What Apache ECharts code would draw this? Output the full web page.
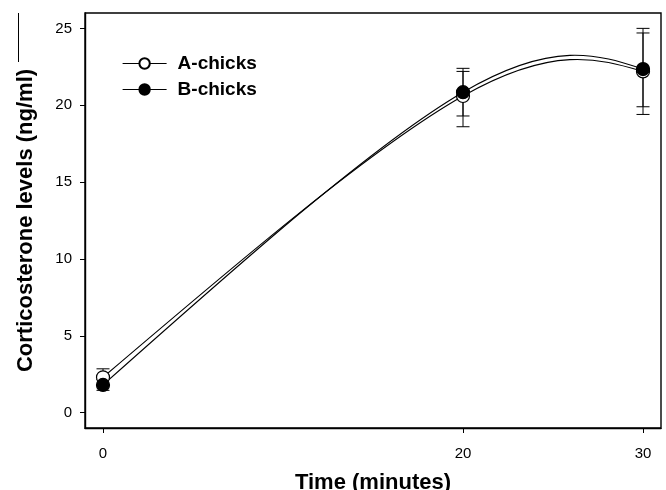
<!DOCTYPE html>
<html><head><meta charset="utf-8">
<script src="https://cdn.jsdelivr.net/npm/echarts@6/dist/echarts.min.js"></script>
<style>html,body{margin:0;padding:0;background:#fff}#c{width:666px;height:490px}</style>
</head><body><div id="c"></div>
<script>
var times = [0, 20, 30];
var seriesNames = ['A-chicks', 'B-chicks'];
var aMean = [2.3, 20.6, 22.2];
var aLow = [1.75, 18.6, 19.4];
var aHigh = [2.85, 22.4, 25.0];
var bMean = [1.8, 20.85, 22.35];
var bLow = [1.45, 19.3, 19.9];
var bHigh = [2.15, 22.2, 24.7];
var xTicks = [0, 20, 30];
var yTicks = [0, 5, 10, 15, 20, 25];

var FONT = '"Liberation Sans", Arial, sans-serif';
function pts(m){ return times.map(function(t,i){ return [t, m[i]]; }); }
function errData(lo, hi){ return times.map(function(t,i){ return [t, lo[i], hi[i]]; }); }
function errSeries(lo, hi){
  return {
    type: 'custom', silent: true, z: 1,
    data: errData(lo, hi),
    encode: {x: 0, y: [1, 2]},
    renderItem: function(params, api){
      var x = api.value(0);
      var p1 = api.coord([x, api.value(1)]);
      var p2 = api.coord([x, api.value(2)]);
      var w = 6.5;
      var st = {stroke: '#000', lineWidth: 1};
      return {type: 'group', children: [
        {type: 'line', shape: {x1: p1[0], y1: p1[1], x2: p2[0], y2: p2[1]}, style: st},
        {type: 'line', shape: {x1: p1[0]-w, y1: p1[1], x2: p1[0]+w, y2: p1[1]}, style: st},
        {type: 'line', shape: {x1: p2[0]-w, y1: p2[1], x2: p2[0]+w, y2: p2[1]}, style: st}
      ]};
    }
  };
}
// parametric natural cubic spline (uniform knots) through the data, drawn as bezier segments
function splineSeries(means){
  return {
    type: 'custom', silent: true, z: 2,
    data: pts(means),
    encode: {x: 0, y: 1},
    renderItem: function(params, api){
      if (params.dataIndex !== 0) return null;
      var P = times.map(function(t, i){ return api.coord([t, means[i]]); });
      var n = P.length, D = [];
      for (var k = 0; k < 2; k++) {
        var a = [], b = [], c = [], r = [];
        for (var i = 0; i < n; i++) {
          if (i === 0) { a[i]=0; b[i]=2; c[i]=1; r[i]=3*(P[1][k]-P[0][k]); }
          else if (i === n-1) { a[i]=1; b[i]=2; c[i]=0; r[i]=3*(P[n-1][k]-P[n-2][k]); }
          else { a[i]=1; b[i]=4; c[i]=1; r[i]=3*(P[i+1][k]-P[i-1][k]); }
        }
        for (i = 1; i < n; i++) { var m = a[i]/b[i-1]; b[i] -= m*c[i-1]; r[i] -= m*r[i-1]; }
        var d = []; d[n-1] = r[n-1]/b[n-1];
        for (i = n-2; i >= 0; i--) d[i] = (r[i]-c[i]*d[i+1])/b[i];
        for (i = 0; i < n; i++) { D[i] = D[i] || []; D[i][k] = d[i]; }
      }
      var children = [];
      for (i = 0; i < n-1; i++) {
        children.push({type: 'bezierCurve', shape: {
          x1: P[i][0], y1: P[i][1], x2: P[i+1][0], y2: P[i+1][1],
          cpx1: P[i][0]+D[i][0]/3, cpy1: P[i][1]+D[i][1]/3,
          cpx2: P[i+1][0]-D[i+1][0]/3, cpy2: P[i+1][1]-D[i+1][1]/3
        }, style: {stroke: '#000', lineWidth: 1.1, fill: null}});
      }
      return {type: 'group', children: children};
    }
  };
}
var chart = echarts.init(document.getElementById('c'));
chart.setOption({
  animation: false,
  backgroundColor: '#fff',
  grid: {left: 85, right: 5, top: 13, bottom: 62, containLabel: false, outerBoundsMode: 'none',
         show: true, borderColor: '#000', borderWidth: 1.4, backgroundColor: 'transparent'},
  legend: {
    orient: 'vertical', left: 117, top: 49, itemWidth: 44, itemHeight: 13, itemGap: 7,
    data: seriesNames,
    lineStyle: {color: '#000', width: 1.2, opacity: 1},
    textStyle: {fontFamily: FONT, fontWeight: 'bold', fontSize: 19, color: '#000', padding: [0,0,0,6]}
  },
  graphic: [{type: 'line', shape: {x1: 18.5, y1: 13, x2: 18.5, y2: 62}, style: {stroke: '#000', lineWidth: 1}}],
  xAxis: {
    type: 'value', min: -1, max: 31,
    name: 'Time (minutes)', nameLocation: 'middle', nameGap: 44,
    nameTextStyle: {fontFamily: FONT, fontWeight: 'bold', fontSize: 22, color: '#000'},
    axisLine: {show: true, onZero: false, lineStyle: {color: '#000', width: 1.4}},
    axisTick: {show: true, length: 5, customValues: xTicks, lineStyle: {color: '#000'}},
    axisLabel: {customValues: xTicks, fontFamily: FONT, fontSize: 15, color: '#000', margin: 18},
    splitLine: {show: false}
  },
  yAxis: {
    type: 'value', min: -1, max: 26,
    name: 'Corticosterone levels (ng/ml)', nameLocation: 'middle', nameGap: 48, nameRotate: 90,
    nameTextStyle: {fontFamily: FONT, fontWeight: 'bold', fontSize: 22, color: '#000'},
    axisLine: {show: true, onZero: false, lineStyle: {color: '#000', width: 1.4}},
    axisTick: {show: true, length: 5, customValues: yTicks, lineStyle: {color: '#000'}},
    axisLabel: {customValues: yTicks, fontFamily: FONT, fontSize: 15, color: '#000', margin: 13},
    splitLine: {show: false}
  },
  series: [
    errSeries(aLow, aHigh),
    errSeries(bLow, bHigh),
    splineSeries(aMean),
    splineSeries(bMean),
    {name: seriesNames[0], type: 'line', z: 3, data: pts(aMean),
     symbol: 'circle', symbolSize: 13,
     lineStyle: {color: '#000', width: 1.2, opacity: 0},
     itemStyle: {color: '#fff', borderColor: '#000', borderWidth: 1.2}},
    {name: seriesNames[1], type: 'line', z: 4, data: pts(bMean),
     symbol: 'circle', symbolSize: 13,
     lineStyle: {color: '#000', width: 1.2, opacity: 0},
     itemStyle: {color: '#000', borderColor: '#000', borderWidth: 1.2}}
  ]
});
</script></body></html>
